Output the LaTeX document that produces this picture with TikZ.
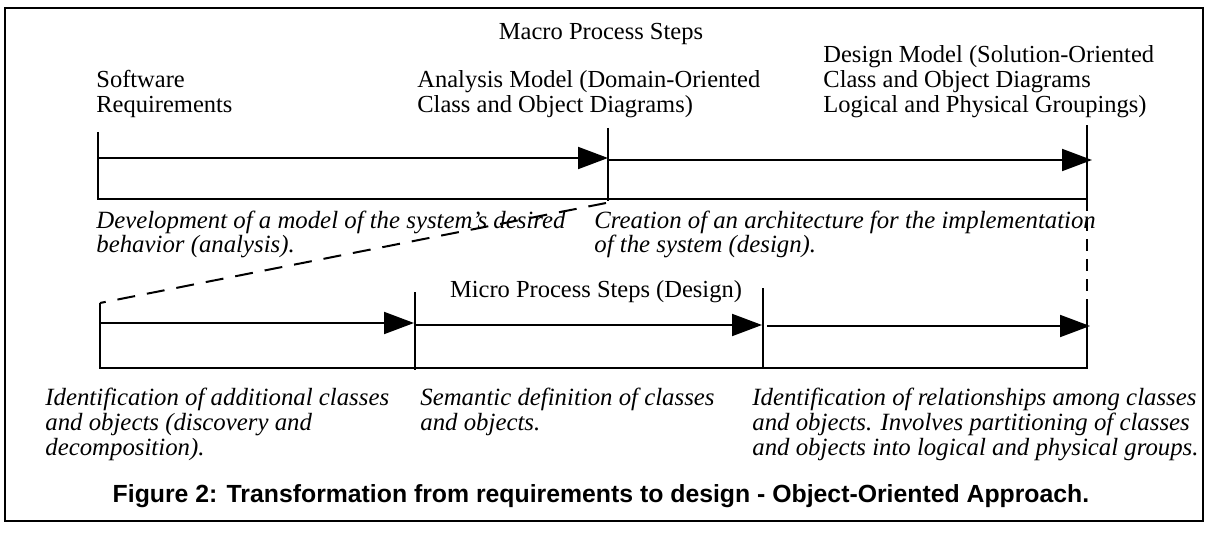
\documentclass[tikz,border=0pt]{standalone}
\usepackage{fontspec}
\setmainfont{Liberation Serif}
\newfontfamily\capfont{Liberation Sans}
\usetikzlibrary{arrows.meta}

\begin{document}
\begin{tikzpicture}[x=0.5pt,y=-0.5pt,
  lbl/.style={anchor=base west, inner sep=0pt, font=\fontsize{12.25}{12.5}\selectfont},
  mid/.style={anchor=base, inner sep=0pt, font=\fontsize{12.25}{12.5}\selectfont},
  note/.style={anchor=base west, inner sep=0pt, font=\fontsize{12.4}{12.5}\selectfont\itshape},
  caption/.style={anchor=base, inner sep=0pt, font=\capfont\bfseries\fontsize{12.4}{14}\selectfont},
  tick/.style={line width=0.9pt},
  flow/.style={line width=1pt, -{Triangle[length=15pt,width=11pt]}},
  guide/.style={line width=1pt, dash pattern=on 9pt off 6pt},
  drop/.style={line width=0.9pt, dash pattern=on 6pt off 4pt},
  frame/.style={line width=1.3pt},
]
\useasboundingbox (0,0) rectangle (1209,534);

% outer frame
\draw[frame] (5,8) rectangle (1203,521);

% ---------- macro process timeline ----------
\coordinate (a0t) at (98,132);   \coordinate (a0b) at (98,199);
\coordinate (a1t) at (608,128);  \coordinate (a1b) at (608,201);
\coordinate (a2t) at (1087,125); \coordinate (a2b) at (1087,199);
\coordinate (a0m) at (98,158);   \coordinate (a1m) at (608,158);
\coordinate (a1n) at (608,160);  \coordinate (a2n) at (1092,160);

\draw[tick] (a0t) -- (a0b) -- (a2b) -- (a2t);
\draw[tick] (a1t) -- (a1b);
\draw[flow] (a0m) -- (a1m);
\draw[flow] (a1n) -- (a2n);

% ---------- micro process timeline ----------
\coordinate (b0t) at (100,303);  \coordinate (b0b) at (100,368);
\coordinate (b1t) at (415,292);  \coordinate (b1b) at (415,370);
\coordinate (b2t) at (763,288);  \coordinate (b2b) at (763,368);
\coordinate (b3t) at (1087,307); \coordinate (b3b) at (1087,368);
\coordinate (b0m) at (100,323);  \coordinate (b1m) at (414,323);
\coordinate (b1n) at (415,325);  \coordinate (b2m) at (762,325);
\coordinate (b2n) at (767,326);  \coordinate (b3m) at (1090,326);

\draw[tick] (b0t) -- (b0b) -- (b3b) -- (b3t);
\draw[tick] (b1t) -- (b1b);
\draw[tick] (b2t) -- (b2b);
\draw[flow] (b0m) -- (b1m);
\draw[flow] (b1n) -- (b2m);
\draw[flow] (b2n) -- (b3m);

% expansion of the design step into the micro steps
\coordinate (d0) at (606,203);
\draw[guide] (d0) -- (b0t);
\draw[drop] (a2b) -- (b3t);

% ---------- labels ----------
\node[mid] (macro) at (601,40) {Macro Process Steps};

\node[lbl] (sw1) at (96,88)  {Software};
\node[lbl] (sw2) at (96,113) {Requirements};

\node[lbl] (an1) at (417,88)  {Analysis Model (Domain-Oriented};
\node[lbl] (an2) at (417,113) {Class and Object Diagrams)};

\node[lbl] (dm1) at (823,63)  {Design Model (Solution-Oriented};
\node[lbl] (dm2) at (823,88)  {Class and Object Diagrams};
\node[lbl] (dm3) at (823,113) {Logical and Physical Groupings)};

\node[note] (dev1) at (96,228) {Development of a model of the system's desired};
\node[note] (dev2) at (96,252) {behavior (analysis).};

\node[note] (cr1) at (594,228) {Creation of an architecture for the implementation};
\node[note] (cr2) at (594,252) {of the system (design).};

\node[mid] (micro) at (596,297) {Micro Process Steps (Design)};

\node[note] (id1) at (45,405) {Identification of additional classes};
\node[note] (id2) at (45,430) {and objects (discovery and};
\node[note] (id3) at (45,455) {decomposition).};

\node[note] (se1) at (420,405) {Semantic definition of classes};
\node[note] (se2) at (420,430) {and objects.};

\node[note] (rl1) at (752,405) {Identification of relationships among classes};
\node[note] (rl2) at (752,430) {and objects. Involves partitioning of classes};
\node[note] (rl3) at (752,455) {and objects into logical and physical groups.};

\node[caption] (cap) at (601,502) {Figure 2: Transformation from requirements to design - Object-Oriented Approach.};
\end{tikzpicture}
\end{document}
